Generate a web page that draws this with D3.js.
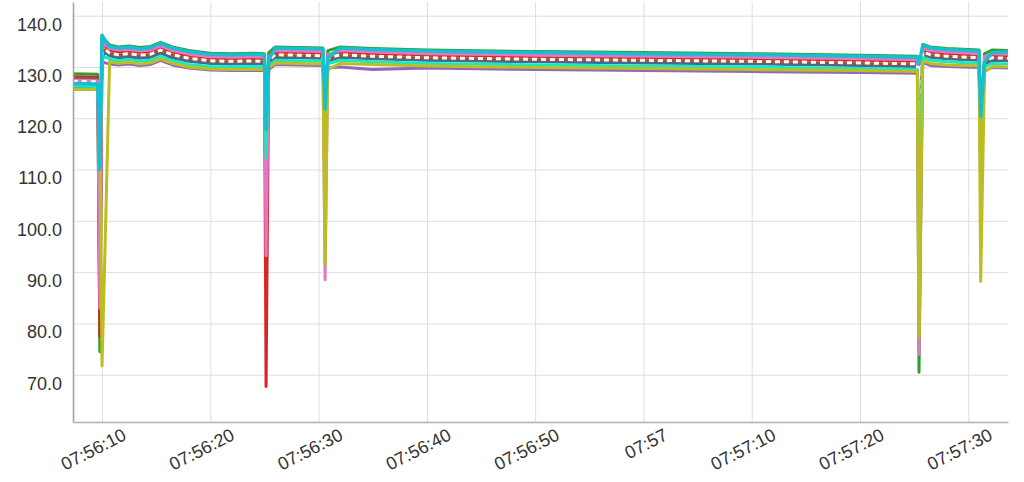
<!DOCTYPE html>
<html>
<head>
<meta charset="utf-8">
<script src="https://cdn.jsdelivr.net/npm/d3@7"></script>
<style>
  html, body { margin: 0; padding: 0; background: #fff; }
  svg { display: block; }
  text { font-family: "Liberation Sans", Arial, sans-serif; }
</style>
</head>
<body>
<svg id="chart" width="1024" height="482"></svg>
<script>
// ---- data (time = seconds after 07:56:00) ----
const times = [7.3, 9.6, 9.8, 10.0, 10.3, 10.7, 11.5, 12.5, 13.5, 14.5, 15.4, 16.5, 18, 20, 22, 24, 25.0, 25.15, 25.4, 26, 28, 30.4, 30.6, 30.85, 32, 35, 40, 50, 60, 70, 80, 85.3, 85.45, 85.8, 86.5, 88, 91.0, 91.15, 91.5, 92.2, 93.67];

const blueValues   = [127.0,126.9,111,132.0,132.8,132.2,131.8,132.0,131.7,131.9,132.7,131.8,131.1,130.7,130.6,130.7,130.6,116,130.8,131.9,131.8,131.7,120,131.2,131.9,131.6,131.3,131.0,130.8,130.6,130.3,130.1,102,132.4,131.9,131.6,131.3,115,130.6,131.3,131.2];
const orangeValues = [127.6,127.5,112,133.0,133.6,132.9,132.5,132.7,132.4,132.6,133.4,132.5,131.8,131.3,131.2,131.3,131.2,119,131.4,132.5,132.4,132.3,119,131.8,132.5,132.2,131.9,131.6,131.4,131.2,130.9,130.7,105,133.0,132.5,132.2,131.9,114,131.2,131.9,131.8];
const greenValues  = [128.7,128.6,74.5,136.0,135.2,134.3,133.9,134.1,133.8,134.0,134.8,133.9,133.2,132.7,132.6,132.7,132.6,118,132.8,133.9,133.8,133.7,120,133.2,133.9,133.6,133.3,133.0,132.8,132.6,132.3,132.1,70.5,134.4,133.9,133.6,133.3,110,132.6,133.3,133.2];
const redValues    = [128.1,128.0,77.5,134.0,134.2,133.3,132.9,133.1,132.8,133.0,133.8,132.9,132.2,131.7,131.6,131.7,131.6,67.7,131.8,132.9,132.8,132.7,118,132.2,132.9,132.6,132.3,132.0,131.8,131.6,131.3,131.1,100,133.4,132.9,132.6,132.3,112,131.6,132.3,132.2];
const purpleValues = [125.9,125.8,114,131.0,130.8,130.6,130.4,130.6,130.3,130.5,131.3,130.4,129.8,129.4,129.3,129.3,129.3,120,129.5,130.5,130.4,130.3,117,129.8,130.0,129.5,129.8,129.5,129.3,129.1,128.9,128.8,104,130.9,130.3,130.1,129.9,111,129.2,129.9,129.8];
const brownValues  = [127.8,127.7,115,132.5,133.2,132.6,132.2,132.4,132.1,132.3,133.1,132.2,131.5,131.0,130.9,131.0,130.9,120,131.1,132.2,132.1,132.0,121,131.5,132.2,131.9,131.6,131.3,131.1,130.9,130.6,130.4,108,132.7,132.2,131.9,131.6,116,130.9,131.6,131.5];
const pinkValues   = [127.4,127.3,83,133.5,134.5,133.6,133.3,133.4,133.1,133.3,134.1,133.2,132.5,132.0,131.9,132.0,131.9,93.2,132.0,133.2,133.1,133.0,88.5,132.4,133.2,132.9,132.6,132.3,132.1,131.9,131.6,131.4,74,133.6,133.2,132.9,132.6,105,132.0,132.6,132.5];
const whiteValues  = [127.2,127.1,118,132.8,133.4,132.7,132.4,132.6,132.3,132.5,133.3,132.4,131.7,131.2,131.1,131.2,131.1,121,131.3,132.4,132.3,132.2,122,131.7,132.4,132.1,131.8,131.5,131.3,131.1,130.8,130.6,110,132.9,132.4,132.1,131.8,117,131.1,131.8,131.7];
const tealValues   = [126.3,126.2,116,131.5,132.0,131.5,131.2,131.4,131.1,131.3,132.1,131.2,130.5,130.1,130.0,130.1,130.0,112.3,130.2,131.3,131.2,131.1,119,130.6,131.3,131.0,130.7,130.4,130.2,130.0,129.7,129.5,106,131.8,131.3,131.0,130.7,113,130.0,130.7,130.6];
const oliveValues  = [125.6,125.6,120,71.7,96.5,131.0,130.7,130.9,130.6,130.8,131.6,130.7,130.0,129.6,129.5,129.5,129.5,124,129.8,130.8,130.7,130.6,91.5,129.5,130.7,130.5,130.2,129.9,129.7,129.5,129.3,129.1,77.3,131.2,130.7,130.4,130.2,88.2,129.0,130.1,130.0];
const cyanValues   = [126.8,126.7,110,136.2,135.0,134.0,133.7,133.9,133.5,133.8,134.6,133.7,133.0,132.5,132.4,132.5,132.4,117.8,131.5,133.7,133.6,133.5,121.8,131.8,133.7,133.4,133.1,132.8,132.6,132.4,132.1,131.9,130.5,134.2,133.7,133.4,133.1,120.4,131.0,132.8,133.0];

const seriesNames  = ["blue","orange","green","red","purple","brown","pink","white","teal","olive","cyan"];
const seriesValues = [blueValues, orangeValues, greenValues, redValues, purpleValues, brownValues, pinkValues, whiteValues, tealValues, oliveValues, cyanValues];
const seriesColors = ["#1f77b4","#ff7f0e","#2ca02c","#d62728","#9467bd","#8c564b","#e377c2","#ffffff","#1de9b6","#bcbd22","#17becf"];

const yTicks = [70, 80, 90, 100, 110, 120, 130, 140];
const xTickSeconds = [10, 20, 30, 40, 50, 60, 70, 80, 90];
const xTickLabels = ["07:56:10","07:56:20","07:56:30","07:56:40","07:56:50","07:57","07:57:10","07:57:20","07:57:30"];
const xDomainSeconds = [7.32, 93.67];
const yDomain = [60.78, 142.67];

// ---- chart ----
const W = 1024, H = 482;
const margin = {top: 2, right: 16, bottom: 60, left: 73};
const base = new Date(2020, 0, 1, 7, 56, 0).getTime();
const toDate = s => new Date(base + s * 1000);

const svg = d3.select("#chart");
const x = d3.scaleTime().domain(xDomainSeconds.map(toDate)).range([margin.left, W - margin.right]);
const y = d3.scaleLinear().domain(yDomain).range([H - margin.bottom, margin.top]);

// grid
const grid = svg.append("g");
grid.append("g")
  .attr("transform", `translate(0,${H - margin.bottom})`)
  .call(d3.axisBottom(x).tickValues(xTickSeconds.map(toDate)).tickSize(-(H - margin.bottom - margin.top)).tickFormat(""))
  .call(g => g.select(".domain").remove())
  .call(g => g.selectAll("line").attr("stroke", "#dedede").attr("stroke-width", 1));
grid.append("g")
  .attr("transform", `translate(${margin.left},0)`)
  .call(d3.axisLeft(y).tickValues(yTicks).tickSize(-(W - margin.left - margin.right)).tickFormat(""))
  .call(g => g.select(".domain").remove())
  .call(g => g.selectAll("line").attr("stroke", "#dedede").attr("stroke-width", 1));

// lines
const line = d3.line()
  .x((d, i) => x(toDate(times[i])))
  .y(d => y(d));
svg.append("clipPath").attr("id", "plotclip").append("rect")
  .attr("x", margin.left).attr("y", margin.top)
  .attr("width", W - margin.left - margin.right).attr("height", H - margin.top - margin.bottom);
const lines = svg.append("g").attr("clip-path", "url(#plotclip)");
seriesValues.forEach((vals, k) => {
  lines.append("path")
    .datum(vals)
    .attr("fill", "none")
    .attr("stroke", seriesColors[k])
    .attr("stroke-width", seriesNames[k] === "cyan" ? 3.5 : 3)
    .attr("stroke-linejoin", "round")
    .attr("stroke-dasharray", seriesNames[k] === "white" ? "5,4" : null)
    .attr("d", line);
});

// axes
const yAxis = svg.append("g")
  .attr("transform", `translate(${margin.left},0)`)
  .call(d3.axisLeft(y).tickValues(yTicks).tickSize(0).tickPadding(11).tickFormat(d3.format(".1f")));
yAxis.select(".domain").attr("stroke", "#a0a0a0").attr("stroke-width", 1.5);
yAxis.selectAll("text")
  .attr("font-size", 18).attr("fill", "#333")
  .attr("font-family", "'Liberation Sans', Arial, sans-serif")
  .attr("dy", "0.35em").attr("y", 8);

const xAxis = svg.append("g")
  .attr("transform", `translate(0,${H - margin.bottom})`)
  .call(d3.axisBottom(x).tickValues(xTickSeconds.map(toDate)).tickSize(0)
    .tickFormat((d, i) => xTickLabels[i]));
xAxis.select(".domain").attr("stroke", "#b0b0b0").attr("stroke-width", 1.5);
xAxis.selectAll("text")
  .attr("font-size", 18).attr("fill", "#333")
  .attr("font-family", "'Liberation Sans', Arial, sans-serif")
  .attr("text-anchor", "end")
  .attr("y", 0).attr("dy", 0)
  .attr("transform", "translate(25,17) rotate(-27)");
</script>
</body>
</html>
